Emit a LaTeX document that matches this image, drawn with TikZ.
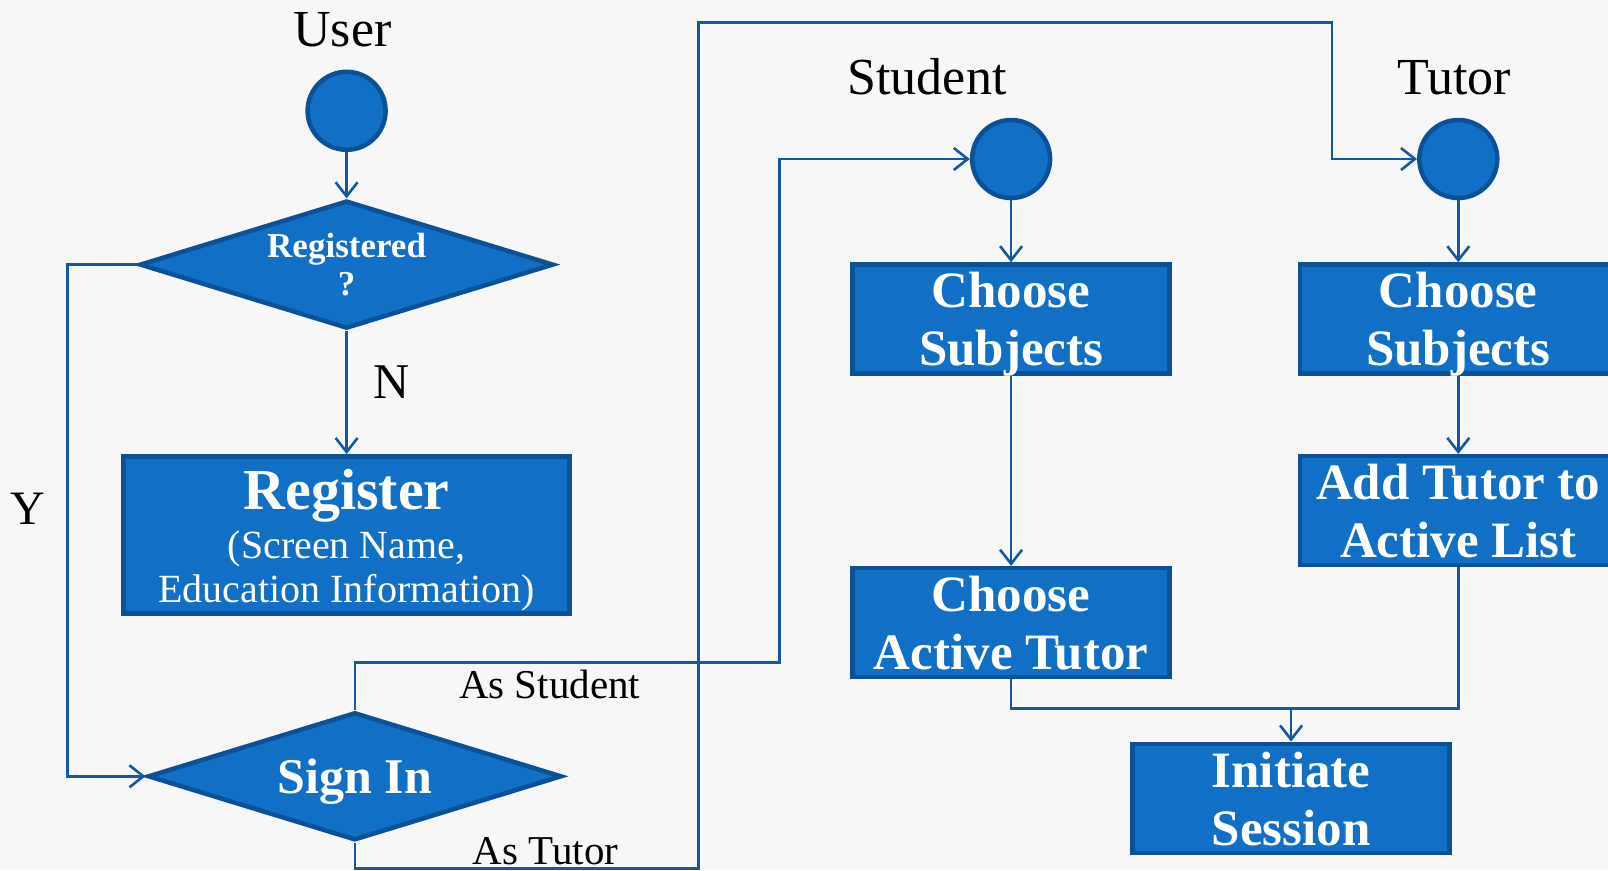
\documentclass[tikz,border=0pt]{standalone}
\usepackage{fontspec}
\setmainfont{Liberation Serif}
\usetikzlibrary{shapes.geometric,arrows.meta}
\definecolor{boxfill}{RGB}{17,111,198}
\definecolor{boxline}{RGB}{12,80,150}
\definecolor{conncol}{RGB}{22,88,160}
\definecolor{bgcol}{RGB}{247,247,247}
\begin{document}
\begin{tikzpicture}[x=1pt,y=-1pt,
  conn/.style={draw=conncol,line width=2.6pt},
  arr/.style={-{Straight Barb[length=14pt,width=22pt,line width=2.6pt]}},
  startdot/.style={circle,fill=boxfill,draw=boxline,line width=4.5pt,minimum size=78pt,inner sep=0pt},
  procbox/.style={rectangle,fill=boxfill,draw=boxline,line width=4.5pt,minimum width=317pt,minimum height=109pt,inner sep=0pt,text=white,align=center,text depth=0pt,font=\bfseries\fontsize{51}{58}\selectfont},
  decision/.style={diamond,aspect=3.23,fill=boxfill,draw=boxline,line width=4.5pt,minimum width=414pt,minimum height=128pt,inner sep=0pt,text=white,align=center},
  lbl/.style={text=black,inner sep=0pt,anchor=base},
  wlbl/.style={text=white,inner sep=0pt,anchor=base}
]
\useasboundingbox (0,0) rectangle (1608,870);
\clip (0,0) rectangle (1608,870);
\fill[bgcol] (0,0) rectangle (1608,870);

% labels
\node[lbl,font=\fontsize{52}{60}\selectfont] (userlbl) at (342.5,46) {User};
\node[lbl,font=\fontsize{52}{60}\selectfont] (stulbl) at (927,94) {Student};
\node[lbl,font=\fontsize{52}{60}\selectfont] (tutlbl) at (1454,94) {Tutor};
\node[lbl,font=\fontsize{50}{56}\selectfont] (nlbl) at (391.7,398) {N};
\node[lbl,font=\fontsize{48}{56}\selectfont] (ylbl) at (27.7,524) {Y};
\node[lbl,font=\fontsize{41}{48}\selectfont] (aslbl) at (549.7,698) {As Student};
\node[lbl,font=\fontsize{41}{48}\selectfont] (atlbl) at (545.6,864.5) {As Tutor};

% user column
\node[startdot] (user) at (346.6,110.8) {};
\node[decision,font=\bfseries\fontsize{35}{38}\selectfont] (reg) at (346.6,264.6) {Registered\\?};
\node[procbox,minimum width=446pt,minimum height=157pt] (register) at (346.6,534.8) {};
\node[wlbl,font=\bfseries\fontsize{58}{60}\selectfont] (regt1) at (346.6,509.7) {Register};
\node[wlbl,font=\fontsize{40}{44}\selectfont] (regt2) at (346.6,558) {(Screen Name,};
\node[wlbl,font=\fontsize{40}{44}\selectfont] (regt3) at (346.6,602) {Education Information)};
\node[decision,text depth=0pt,font=\bfseries\fontsize{50}{56}\selectfont] (sign) at (354.8,776.3) {Sign In};

% student column
\node[startdot] (stu) at (1011.1,159) {};
\node[procbox] (scs) at (1011.1,319) {Choose\\Subjects};
\node[procbox] (cat) at (1011.1,622.6) {Choose\\Active Tutor};

% tutor column
\node[startdot] (tut) at (1458.3,159) {};
\node[procbox] (tcs) at (1458.3,319) {Choose\\Subjects};
\node[procbox] (add) at (1458.3,510.7) {Add Tutor to\\Active List};

% session
\node[procbox] (init) at (1291.1,798.3) {Initiate\\Session};

% bend coordinates
\coordinate (sbend) at (779.4,662.5);
\coordinate (tb1) at (698.4,868.6);
\coordinate (tb2) at (1332.1,22.6);
\coordinate (jn) at (1291.1,708.5);

% connectors
\draw[conn,arr] (user) -- (reg.north);
\draw[conn,arr] (reg.south) -- (register.north);
\draw[conn,arr] (reg.west) -- ++(-70,0) |- (sign.west);
\draw[conn,arr] (sign.north) |- (sbend) |- (stu.west);
\draw[conn,arr] (sign.south) |- (tb1) |- (tb2) |- (tut.west);
\draw[conn,arr] (stu) -- (scs.north);
\draw[conn,arr] (scs.south) -- (cat.north);
\draw[conn,arr] (tut) -- (tcs.north);
\draw[conn,arr] (tcs.south) -- (add.north);
\draw[conn,arr] (cat.south) |- (jn) -- (init.north);
\draw[conn] (add.south) |- (jn);
\end{tikzpicture}
\end{document}
